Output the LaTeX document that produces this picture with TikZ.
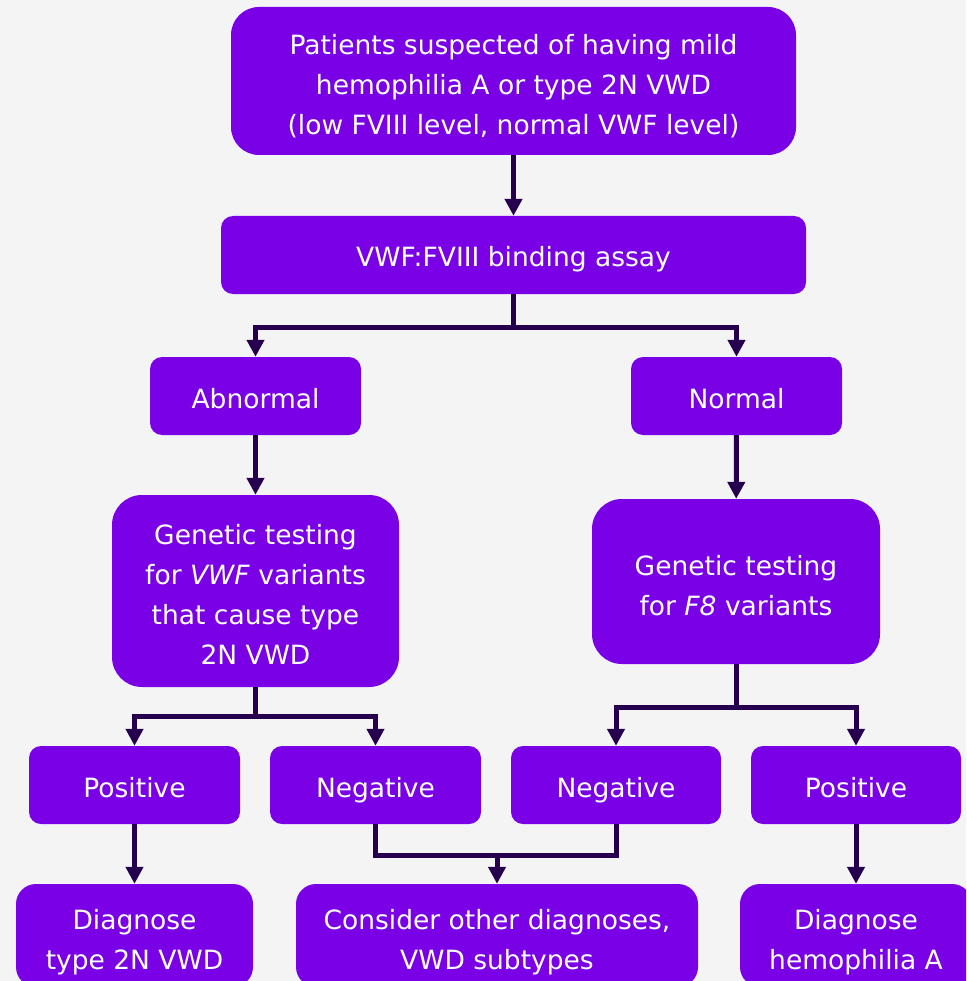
\documentclass[tikz,border=0pt]{standalone}
\usepackage{fontspec}
\setmainfont{DejaVu Sans}
\usetikzlibrary{arrows.meta}
\definecolor{boxpurple}{HTML}{7A00E6}
\definecolor{arrowdark}{HTML}{26004F}
\definecolor{bggray}{HTML}{F4F4F4}
\newcommand{\boxstrut}{\rule[-8pt]{0pt}{40pt}}
\tikzset{
  boxtext/.style={text=white, align=center, inner sep=0pt,
    font=\fontsize{26.5}{40}\selectfont,
    execute at begin node=\boxstrut, execute at end node=\boxstrut},
  box/.style={boxtext, draw=none, fill=boxpurple},
  smallbox/.style={box, minimum width=211pt, minimum height=78pt, rounded corners=12pt},
  conn/.style={draw=arrowdark, line width=5pt},
  arr/.style={conn, -{Triangle[width=17pt,length=17pt]}}
}
\begin{document}
\begin{tikzpicture}[x=1pt,y=-1pt]
\fill[bggray] (0,0) rectangle (966,981);
\useasboundingbox (0,0) rectangle (966,981);
\clip (0,0) rectangle (966,981);
% nodes
\node[box, minimum width=565pt, minimum height=148pt, rounded corners=28pt] (top) at (513.5,81) {};
\node[boxtext] (toptxt) at ([yshift=-7.5pt]top.center)
  {Patients suspected of having mild\\hemophilia A or type 2N VWD\\(low FVIII level, normal VWF level)};
\node[box, minimum width=585pt, minimum height=78pt, rounded corners=12pt] (assay) at (513.5,255)
  {VWF:FVIII binding assay};
\node[smallbox] (abn) at (255.5,396) {Abnormal};
\node[smallbox] (nor) at (736.5,396) {Normal};
\node[box, minimum width=287pt, minimum height=192pt, rounded corners=30pt] (genvwf) at (255.5,591) {};
\node[boxtext] (genvwftxt) at ([yshift=-7.5pt]genvwf.center)
  {Genetic testing\\for \textit{VWF} variants\\that cause type\\2N VWD};
\node[box, minimum width=288pt, minimum height=165pt, rounded corners=30pt] (genf8) at (736,581.5) {};
\node[boxtext] (genf8txt) at ([yshift=-7.5pt]genf8.center)
  {Genetic testing\\for \textit{F8} variants};
\node[smallbox] (pos1) at (134.5,785) {Positive};
\node[smallbox] (neg1) at (375.5,785) {Negative};
\node[smallbox, minimum width=210pt] (neg2) at (616,785) {Negative};
\node[smallbox, minimum width=210pt] (pos2) at (856,785) {Positive};
\node[box, minimum width=237pt, minimum height=103pt, rounded corners=20pt] (diag1) at (134.5,935.5) {};
\node[boxtext] (diag1txt) at ([yshift=-7.5pt]diag1.center) {Diagnose\\type 2N VWD};
\node[box, minimum width=402pt, minimum height=103pt, rounded corners=20pt] (other) at (497,935.5) {};
\node[boxtext] (othertxt) at ([yshift=-7.5pt]other.center) {Consider other diagnoses,\\VWD subtypes};
\node[box, minimum width=232pt, minimum height=103pt, rounded corners=20pt] (diag2) at (856,935.5) {};
\node[boxtext] (diag2txt) at ([yshift=-7.5pt]diag2.center) {Diagnose\\hemophilia A};
% junctions
\coordinate (j1) at (513.5,327);
\coordinate (j2) at (255.5,716);
\coordinate (j3) at (736,707);
\coordinate (j4) at (497,855);
% connectors
\draw[arr] (top) -- (assay);
\draw[conn] (assay.south) -- (j1);
\draw[arr] (j1) -| (abn.north);
\draw[arr] (j1) -| (nor.north);
\draw[arr] (abn) -- (genvwf);
\draw[arr] (nor) -- (genf8);
\draw[conn] (genvwf.south) -- (j2);
\draw[arr] (j2) -| (pos1.north);
\draw[arr] (j2) -| (neg1.north);
\draw[conn] (genf8.south) -- (j3);
\draw[arr] (j3) -| (neg2.north);
\draw[arr] (j3) -| (pos2.north);
\draw[conn] (neg1.south) |- (j4) -| (neg2.south);
\draw[arr] (j4) -- (other.north);
\draw[arr] (pos1) -- (diag1);
\draw[arr] (pos2) -- (diag2);
\end{tikzpicture}
\end{document}
